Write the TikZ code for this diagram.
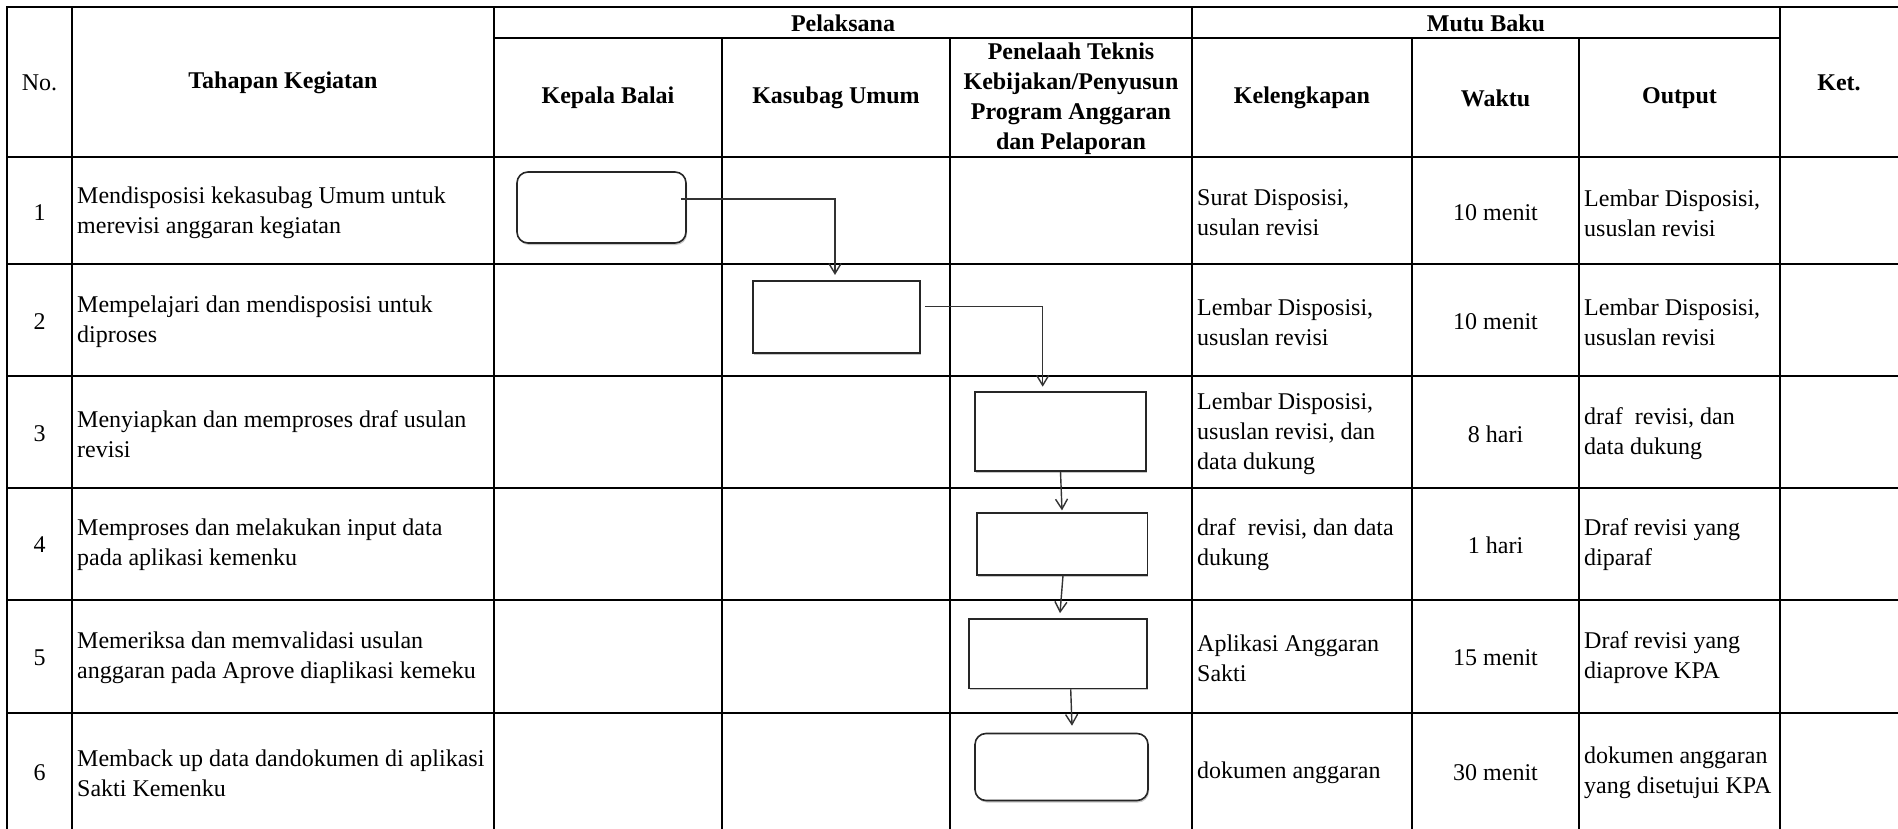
\documentclass[tikz,border=0pt]{standalone}
\usepackage{fontspec}
\setmainfont{Liberation Serif}
\usetikzlibrary{arrows.meta,shadows}
\begin{document}
\begin{tikzpicture}[x=1pt,y=-1pt,
  grid/.style={line width=2.5pt,line cap=rect,draw=black},
  txt/.style={inner sep=0pt,font=\fontsize{24}{30}\selectfont},
  lcell/.style={txt,align=left,anchor=west},
  ccell/.style={txt,align=center},
  hcell/.style={txt,align=center,font=\fontsize{24}{30}\selectfont\bfseries},
  procbox/.style={draw=black!85,line width=1.6pt,fill=white,inner sep=0pt,
    drop shadow={shadow xshift=1pt,shadow yshift=-2pt,fill=black,opacity=0.22}},
  termbox/.style={procbox,rounded corners=11pt},
  conn/.style={draw=black!80,line width=1.4pt,-{Straight Barb[length=10pt,width=12pt]}}]
\useasboundingbox (0,0) rectangle (1898,829);
\fill[white] (0,0) rectangle (1898,829);
% grid
\draw[grid] (7,7) -- (1905,7);
\draw[grid] (494,38) -- (1780,38);
\foreach \y in {157,264,376,488,600,713} \draw[grid] (7,\y) -- (1905,\y);
\foreach \x in {7,72,494,1192,1780} \draw[grid] (\x,7) -- (\x,835);
\foreach \x in {722,950,1412,1579} \draw[grid] (\x,38) -- (\x,835);
% header
\node[ccell] (hno) at (39.5,83) {No.};
\node[hcell] (htah) at (283,83) {Tahapan Kegiatan};
\node[hcell] (hpel) at (843,23) {Pelaksana};
\node[hcell] (hkep) at (608,98) {Kepala Balai};
\node[hcell] (hkas) at (836,98) {Kasubag Umum};
\node[hcell] (hpen) at (1071,99) {Penelaah Teknis\\Kebijakan/Penyusun\\Program Anggaran\\dan Pelaporan};
\node[hcell] (hmut) at (1486,23) {Mutu Baku};
\node[hcell] (hkel) at (1302,98) {Kelengkapan};
\node[hcell] (hwak) at (1495.5,98) {Waktu};
\node[hcell] (hout) at (1679.5,98) {Output};
\node[hcell] (hket) at (1839,83) {Ket.};
% row 1
\node[ccell] (n1) at (39.5,213) {1};
\node[lcell] (t1) at (77,213) {Mendisposisi kekasubag Umum untuk\\merevisi anggaran kegiatan};
\node[lcell] (k1) at (1197,213) {Surat Disposisi,\\usulan revisi};
\node[ccell] (w1) at (1495.5,213) {10 menit};
\node[lcell] (o1) at (1584,213) {Lembar Disposisi,\\ususlan revisi};
% row 2
\node[ccell] (n2) at (39.5,322) {2};
\node[lcell] (t2) at (77,322) {Mempelajari dan mendisposisi untuk\\diproses};
\node[lcell] (k2) at (1197,322) {Lembar Disposisi,\\ususlan revisi};
\node[ccell] (w2) at (1495.5,322) {10 menit};
\node[lcell] (o2) at (1584,322) {Lembar Disposisi,\\ususlan revisi};
% row 3
\node[ccell] (n3) at (39.5,434) {3};
\node[lcell] (t3) at (77,434) {Menyiapkan dan memproses draf usulan\\revisi};
\node[lcell] (k3) at (1197,434) {Lembar Disposisi,\\ususlan revisi, dan\\data dukung};
\node[ccell] (w3) at (1495.5,434) {8 hari};
\node[lcell] (o3) at (1584,434) {draf\ \ revisi, dan\\data dukung};
% row 4
\node[ccell] (n4) at (39.5,545) {4};
\node[lcell] (t4) at (77,545) {Memproses dan melakukan input data\\pada aplikasi kemenku};
\node[lcell] (k4) at (1197,545) {draf\ \ revisi, dan data\\dukung};
\node[ccell] (w4) at (1495.5,545) {1 hari};
\node[lcell] (o4) at (1584,545) {Draf revisi yang\\diparaf};
% row 5
\node[ccell] (n5) at (39.5,658) {5};
\node[lcell] (t5) at (77,658) {Memeriksa dan memvalidasi usulan\\anggaran pada Aprove diaplikasi kemeku};
\node[lcell] (k5) at (1197,658) {Aplikasi Anggaran\\Sakti};
\node[ccell] (w5) at (1495.5,658) {15 menit};
\node[lcell] (o5) at (1584,658) {Draf revisi yang\\diaprove KPA};
% row 6
\node[ccell] (n6) at (39.5,773) {6};
\node[lcell] (t6) at (77,773) {Memback up data dandokumen di aplikasi\\Sakti Kemenku};
\node[lcell] (k6) at (1197,773) {dokumen anggaran};
\node[ccell] (w6) at (1495.5,773) {30 menit};
\node[lcell] (o6) at (1584,773) {dokumen anggaran\\yang disetujui KPA};
% flow shapes
\node[termbox,minimum width=169pt,minimum height=71pt] (A) at (601.5,207.5) {};
\node[procbox,minimum width=167pt,minimum height=71.5pt] (B) at (836.5,317) {};
\node[procbox,minimum width=171pt,minimum height=79pt] (C) at (1060.5,431.5) {};
\node[procbox,minimum width=170.6pt,minimum height=62pt] (D) at (1062,543.7) {};
\node[procbox,minimum width=177.7pt,minimum height=69.5pt] (E) at (1058,653.7) {};
\node[termbox,minimum width=173pt,minimum height=67pt] (F) at (1061.5,767) {};
% connectors
\draw[conn] ([xshift=-6pt,yshift=8.5pt]A.east) -| ([xshift=-1.5pt,yshift=5.5pt]B.north);
\draw[conn] ([xshift=4pt,yshift=10.4pt]B.east) -| ([xshift=-17.8pt,yshift=4.5pt]C.north);
\draw[conn] (C.south) -- ([yshift=1.5pt]D.north);
\draw[conn] ([xshift=1pt]D.south) -- ([xshift=2pt,yshift=5pt]E.north);
\draw[conn] ([xshift=12.7pt]E.south) -- ([xshift=10.5pt,yshift=7pt]F.north);
\end{tikzpicture}
\end{document}
